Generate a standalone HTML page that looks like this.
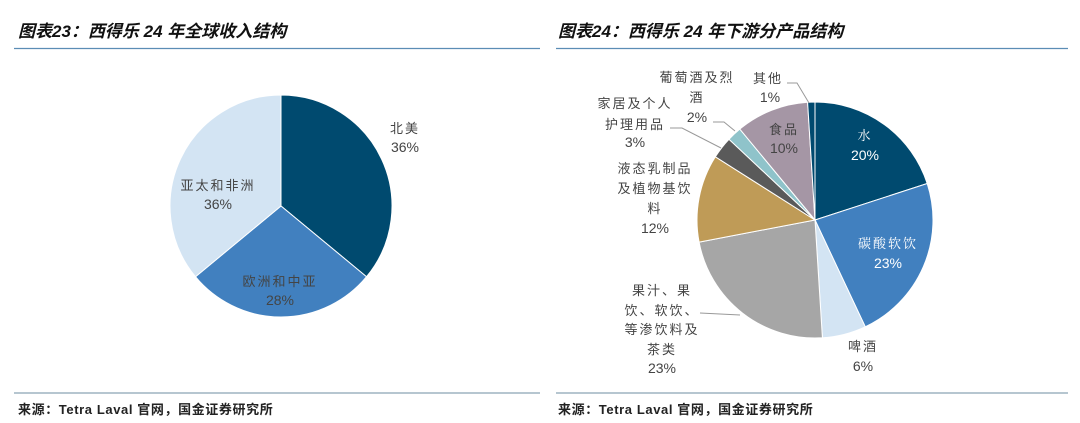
<!DOCTYPE html>
<html><head><meta charset="utf-8"><style>
body{margin:0;background:#fff;width:1080px;height:423px;overflow:hidden}
svg{display:block}
text{font-family:"Liberation Sans","Noto Sans CJK SC",sans-serif}
.cj{font-family:"Liberation Serif","Noto Serif CJK SC",serif;letter-spacing:2px}
</style></head><body>
<svg id="s" width="1080" height="423" xmlns="http://www.w3.org/2000/svg">
<g font-weight="bold" font-style="italic" font-size="17" fill="#111">
<text x="18" y="37">图表23：西得乐 24 年全球收入结构</text>
<text x="558" y="37">图表24：西得乐 24 年下游分产品结构</text>
</g>
<line x1="14" y1="48.5" x2="540" y2="48.5" stroke="#5b8db5" stroke-width="1.3"/>
<line x1="556" y1="48.5" x2="1068" y2="48.5" stroke="#5b8db5" stroke-width="1.3"/>
<line x1="14" y1="393" x2="540" y2="393" stroke="#8aa3b5" stroke-width="1.3"/>
<line x1="556" y1="393" x2="1068" y2="393" stroke="#8aa3b5" stroke-width="1.3"/>
<g font-size="13" fill="#222" font-weight="bold" style="letter-spacing:0.6px">
<text x="18" y="414">来源：Tetra Laval 官网，国金证券研究所</text>
<text x="558" y="414">来源：Tetra Laval 官网，国金证券研究所</text>
</g>
<g id="p1"></g><g id="p2"></g>
<g fill="none" stroke="#999" stroke-width="1">
<polyline points="787,83 797,83 809,103"/>
<polyline points="713,122 724,122 735,131"/>
<polyline points="670,128 682,128 721,148"/>
<polyline points="700,313 740,315"/>
</g>
<g font-size="13" text-anchor="middle" fill="#444">
<g class="cj">
<text x="405" y="133">北美</text>
<text x="218" y="190">亚太和非洲</text>
<text x="280" y="286">欧洲和中亚</text>
<text x="768" y="83">其他</text>
<text x="697" y="82">葡萄酒及烈</text><text x="697" y="102">酒</text>
<text x="635" y="108">家居及个人</text><text x="635" y="129">护理用品</text>
<text x="655" y="173">液态乳制品</text><text x="655" y="193">及植物基饮</text><text x="655" y="213">料</text>
<text x="662" y="295">果汁、果</text><text x="662" y="315">饮、软饮、</text><text x="662" y="334">等渗饮料及</text><text x="662" y="354">茶类</text>
<text x="863" y="351">啤酒</text>
<text x="784" y="134">食品</text>
</g>
<text x="405" y="152" font-size="14">36%</text>
<text x="218" y="209" font-size="14">36%</text>
<text x="280" y="305" font-size="14">28%</text>
<text x="770" y="102" font-size="14">1%</text>
<text x="697" y="122" font-size="14">2%</text>
<text x="635" y="147" font-size="14">3%</text>
<text x="655" y="233" font-size="14">12%</text>
<text x="662" y="373" font-size="14">23%</text>
<text x="863" y="371" font-size="14">6%</text>
<text x="784" y="153" font-size="14">10%</text>
</g>
<g font-size="13" text-anchor="middle" fill="#fff">
<text class="cj" x="865" y="140">水</text><text x="865" y="160" font-size="14">20%</text>
<text class="cj" x="888" y="248">碳酸软饮</text><text x="888" y="268" font-size="14">23%</text>
</g>
</svg>
<script>
function pie(id,cx,cy,r,data){
 var g=document.getElementById(id),a=0,h='';
 data.forEach(function(d){
  var a0=a/100*2*Math.PI,a1=(a+d[0])/100*2*Math.PI;a+=d[0];
  var x0=cx+r*Math.sin(a0),y0=cy-r*Math.cos(a0),x1=cx+r*Math.sin(a1),y1=cy-r*Math.cos(a1);
  h+='<path d="M'+cx+','+cy+'L'+x0+','+y0+'A'+r+','+r+' 0 '+(d[0]>50?1:0)+' 1 '+x1+','+y1+'Z" fill="'+d[1]+'" stroke="#fff" stroke-width="1"/>';
 });
 g.innerHTML=h;
}
pie('p1',281,206,111,[[36,'#004a6f'],[28,'#4180bf'],[36,'#d3e4f3']]);
pie('p2',815,220,118,[[20,'#004a6f'],[23,'#4180bf'],[6,'#d3e4f3'],[23,'#a6a6a6'],[12,'#bf9b57'],[3,'#5a5a5a'],[2,'#8fc3ca'],[10,'#a596a5'],[1,'#004a6f']]);
</script>
</body></html>
